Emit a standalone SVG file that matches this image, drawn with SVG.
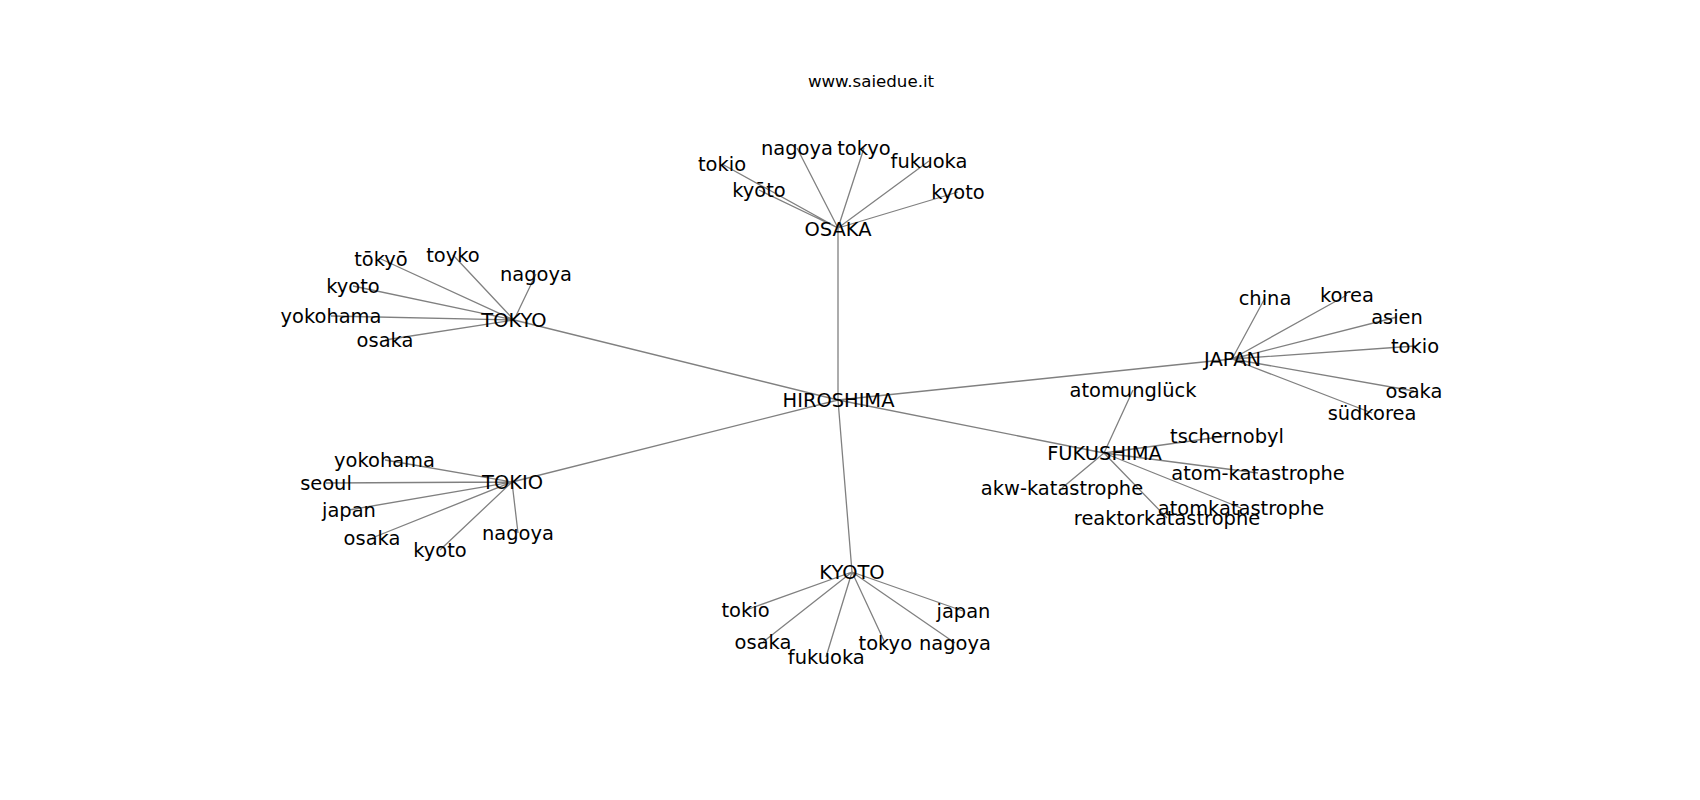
<svg xmlns="http://www.w3.org/2000/svg" width="1700" height="800" viewBox="0 0 1700 800">
<style>
.e{stroke:#808080;stroke-width:1.3;fill:none}
text{font-family:"DejaVu Sans",sans-serif;font-size:19.44px;fill:#000;text-anchor:middle}
.t{font-size:16.67px}
</style>
<rect width="1700" height="800" fill="#fff"/>
<text class="t" x="871" y="87">www.saiedue.it</text>
<g id="edges">
<path class="e" d="M838,400L838,228 M838,400L514,320 M838,400L1232,359 M838,400L1104,453 M838,400L512,482 M838,400L852,572"/>
<path class="e" d="M838,228L722,164 M838,228L797,148 M838,228L864,148 M838,228L929,161 M838,228L759,190 M838,228L958,192"/>
<path class="e" d="M514,320L381,259 M514,320L453,255 M514,320L536,274 M514,320L353,286 M514,320L331,316 M514,320L385,340"/>
<path class="e" d="M1232,359L1265,298 M1232,359L1347,295 M1232,359L1397,317 M1232,359L1415,346 M1232,359L1414,391 M1232,359L1372,413"/>
<path class="e" d="M1104,453L1133,390 M1104,453L1227,436 M1104,453L1258,473 M1104,453L1062,488 M1104,453L1241,508 M1104,453L1167,518"/>
<path class="e" d="M512,482L385,460 M512,482L326,483 M512,482L349,510 M512,482L372,538 M512,482L440,550 M512,482L518,533"/>
<path class="e" d="M852,572L746,610 M852,572L963,611 M852,572L763,642 M852,572L826,657 M852,572L885,643 M852,572L955,643"/>
</g>
<g id="HIROSHIMA"><text x="838.5" y="407.3">HIROSHIMA</text></g>
<g id="OSAKA"><text x="838" y="235.5">OSAKA</text></g>
<g id="OSAKA-tokio"><text x="722" y="170.7">tokio</text></g>
<g id="OSAKA-nagoya"><text x="797" y="155">nagoya</text></g>
<g id="OSAKA-tokyo"><text x="864" y="155">tokyo</text></g>
<g id="OSAKA-fukuoka"><text x="929" y="167.7">fukuoka</text></g>
<g id="OSAKA-kyoto2"><text x="759" y="196.7">kyōto</text></g>
<g id="OSAKA-kyoto"><text x="958" y="199">kyoto</text></g>
<g id="TOKYO"><text x="514" y="326.7">TOKYO</text></g>
<g id="TOKYO-tokyo2"><text x="381" y="266">tōkyō</text></g>
<g id="TOKYO-toyko"><text x="453" y="261.7">toyko</text></g>
<g id="TOKYO-nagoya"><text x="536" y="280.7">nagoya</text></g>
<g id="TOKYO-kyoto"><text x="353" y="293.3">kyoto</text></g>
<g id="TOKYO-yokohama"><text x="331" y="322.7">yokohama</text></g>
<g id="TOKYO-osaka"><text x="385" y="346.7">osaka</text></g>
<g id="JAPAN"><text x="1232.5" y="366">JAPAN</text></g>
<g id="JAPAN-china"><text x="1265" y="305">china</text></g>
<g id="JAPAN-korea"><text x="1347" y="301.7">korea</text></g>
<g id="JAPAN-asien"><text x="1397" y="324">asien</text></g>
<g id="JAPAN-tokio"><text x="1415" y="353.3">tokio</text></g>
<g id="JAPAN-osaka"><text x="1414" y="397.7">osaka</text></g>
<g id="JAPAN-suedkorea"><text x="1372" y="420">südkorea</text></g>
<g id="FUKUSHIMA"><text x="1104.5" y="460">FUKUSHIMA</text></g>
<g id="FUKUSHIMA-atomungluck"><text x="1133" y="396.7">atomunglück</text></g>
<g id="FUKUSHIMA-tschernobyl"><text x="1227" y="443.3">tschernobyl</text></g>
<g id="FUKUSHIMA-atom-katastrophe"><text x="1258" y="480">atom-katastrophe</text></g>
<g id="FUKUSHIMA-akw"><text x="1062" y="495">akw-katastrophe</text></g>
<g id="FUKUSHIMA-atomkatastrophe"><text x="1241" y="515">atomkatastrophe</text></g>
<g id="FUKUSHIMA-reaktor"><text x="1167" y="525">reaktorkatastrophe</text></g>
<g id="TOKIO"><text x="512.5" y="489.3">TOKIO</text></g>
<g id="TOKIO-yokohama"><text x="384.5" y="466.7">yokohama</text></g>
<g id="TOKIO-seoul"><text x="326" y="490">seoul</text></g>
<g id="TOKIO-japan"><text x="349" y="517.3">japan</text></g>
<g id="TOKIO-osaka"><text x="372" y="545">osaka</text></g>
<g id="TOKIO-kyoto"><text x="440" y="556.7">kyoto</text></g>
<g id="TOKIO-nagoya"><text x="518" y="540">nagoya</text></g>
<g id="KYOTO"><text x="852" y="579.3">KYOTO</text></g>
<g id="KYOTO-tokio"><text x="745.5" y="616.7">tokio</text></g>
<g id="KYOTO-japan"><text x="963.5" y="618.3">japan</text></g>
<g id="KYOTO-osaka"><text x="763" y="649">osaka</text></g>
<g id="KYOTO-fukuoka"><text x="826.3" y="664">fukuoka</text></g>
<g id="KYOTO-tokyo"><text x="885.3" y="650">tokyo</text></g>
<g id="KYOTO-nagoya"><text x="955" y="650">nagoya</text></g>
</svg>
